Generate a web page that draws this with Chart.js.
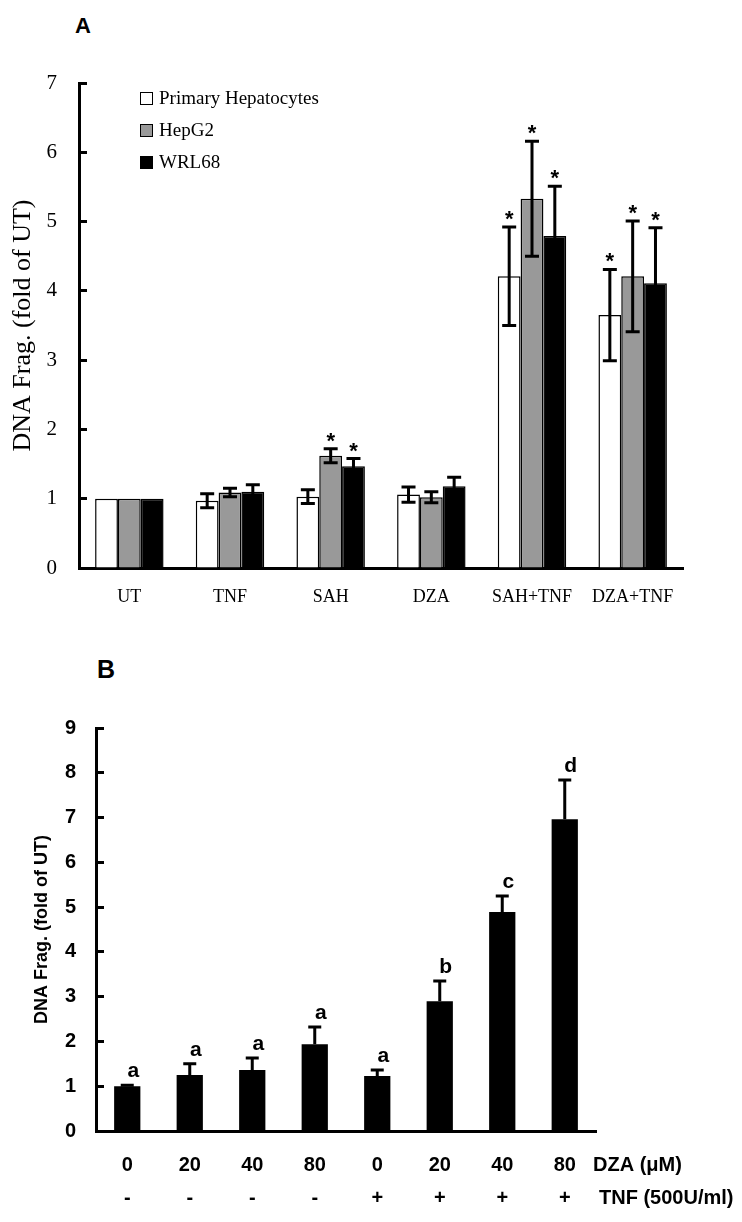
<!DOCTYPE html>
<html>
<head>
<meta charset="utf-8">
<title>DNA fragmentation</title>
<script src="https://cdn.jsdelivr.net/npm/chart.js@4.4.1/dist/chart.umd.min.js"></script>
<style>
  body { margin: 0; background: #fff; }
  #wrap { position: relative; width: 742px; height: 1222px; }
  canvas { position: absolute; left: 0; }
  .panel { position: absolute; font: bold 22px "Liberation Sans", Arial, sans-serif; line-height: 1; }
  #legendA { position: absolute; left: 140px; top: 82px; font: 19px "Liberation Serif", "Times New Roman", serif; }
  #legendA div { height: 32px; display: flex; align-items: center; }
  #legendA .box { display: inline-block; width: 11px; height: 11px; border: 1.5px solid #000; margin-right: 6px; }
</style>
</head>
<body>
<div id="wrap">
  <div class="panel" style="left:75px;top:15px;">A</div>
  <canvas id="chartA" width="742" height="620" style="top:0"></canvas>
  <div id="legendA"></div>
  <div class="panel" style="left:97px;top:657px;font-size:25px;">B</div>
  <canvas id="chartB" width="742" height="602" style="top:620px"></canvas>
</div>
<script>
// ---- panel A: three cell types ----
var groupsA = ["UT", "TNF", "SAH", "DZA", "SAH+TNF", "DZA+TNF"];
var seriesA = ["Primary Hepatocytes", "HepG2", "WRL68"];
var colorsA = ["#ffffff", "#999999", "#000000"];
var primaryVals = [1.0, 0.97, 1.03, 1.06, 4.21, 3.65];
var primaryErr  = [0, 0.10, 0.10, 0.11, 0.71, 0.66];
var hepg2Vals   = [1.0, 1.09, 1.62, 1.02, 5.33, 4.21];
var hepg2Err    = [0, 0.06, 0.10, 0.08, 0.83, 0.80];
var wrlVals     = [1.0, 1.10, 1.47, 1.18, 4.79, 4.11];
var wrlErr      = [0, 0.10, 0.11, 0.13, 0.72, 0.80];
var primarySig  = ["", "", "", "", "*", "*"];
var hepg2Sig    = ["", "", "*", "", "*", "*"];
var wrlSig      = ["", "", "*", "", "*", "*"];

// ---- panel B: DZA dose with / without TNF ----
var dzaDose  = ["0", "20", "40", "80", "0", "20", "40", "80"];
var tnfSign  = ["-", "-", "-", "-", "+", "+", "+", "+"];
var fragB    = [1.0, 1.25, 1.36, 1.94, 1.23, 2.9, 4.89, 6.96];
var fragErrB = [0.02, 0.25, 0.27, 0.38, 0.13, 0.45, 0.36, 0.88];
var lettersB = ["a", "a", "a", "a", "a", "b", "c", "d"];
var rowNamesB = ["DZA (\u03bcM)", "TNF (500U/ml)"];

var serif = "'Liberation Serif', 'Times New Roman', serif";
var sans = "'Liberation Sans', Arial, sans-serif";

// error bars + significance marks drawn from the dataset values
var errBars = {
  id: "errBars",
  afterDatasetsDraw: function (chart, args, opts) {
    var ctx = chart.ctx, y = chart.scales.y;
    ctx.save();
    chart.data.datasets.forEach(function (ds, i) {
      var meta = chart.getDatasetMeta(i);
      meta.data.forEach(function (bar, j) {
        var v = ds.data[j], e = ds.err[j];
        var yTop = y.getPixelForValue(v + e);
        var yBot = opts.both ? y.getPixelForValue(v - e) : bar.y;
        if (e > 0) {
          ctx.strokeStyle = "#000";
          ctx.lineWidth = opts.lw;
          ctx.beginPath();
          ctx.moveTo(bar.x, yTop); ctx.lineTo(bar.x, yBot);
          ctx.moveTo(bar.x - opts.cap, yTop); ctx.lineTo(bar.x + opts.cap, yTop);
          if (opts.both) { ctx.moveTo(bar.x - opts.cap, yBot); ctx.lineTo(bar.x + opts.cap, yBot); }
          ctx.stroke();
        }
        var mark = ds.marks[j];
        if (mark) {
          ctx.fillStyle = "#000";
          ctx.font = opts.markFont;
          ctx.textAlign = "center";
          ctx.textBaseline = "alphabetic";
          ctx.fillText(mark, bar.x + opts.markDx, yTop - opts.markGap);
        }
      });
    });
    ctx.restore();
  }
};

// row names to the right of the multi-line x labels (panel B)
var rowTitles = {
  id: "rowTitles",
  afterDraw: function (chart, args, opts) {
    var x = chart.scales.x, ctx = chart.ctx;
    ctx.save();
    ctx.font = opts.font;
    ctx.fillStyle = "#000";
    ctx.textBaseline = "middle";
    ctx.textAlign = "left";
    opts.text.forEach(function (t, i) {
      ctx.fillText(t, chart.chartArea.right + opts.dx[i], x.top + x.options.ticks.padding + opts.lineHeight * (i + 0.5));
    });
    ctx.restore();
  }
};

// legend for A
var legendA = document.getElementById("legendA");
seriesA.forEach(function (name, i) {
  var row = document.createElement("div");
  row.innerHTML = '<span class="box" style="background:' + colorsA[i] + '"></span>' + name;
  legendA.appendChild(row);
});

var valsA = [primaryVals, hepg2Vals, wrlVals];
var errsA = [primaryErr, hepg2Err, wrlErr];
var sigsA = [primarySig, hepg2Sig, wrlSig];

new Chart(document.getElementById("chartA"), {
  type: "bar",
  data: {
    labels: groupsA,
    datasets: seriesA.map(function (name, i) {
      return {
        label: name,
        data: valsA[i],
        err: errsA[i],
        marks: sigsA[i],
        backgroundColor: colorsA[i],
        borderColor: "#000",
        borderWidth: 1.5,
        barPercentage: 1.0,
        categoryPercentage: 0.68
      };
    })
  },
  options: {
    responsive: false,
    devicePixelRatio: 1,
    animation: false,
    layout: { padding: { left: 0, top: 83, right: 59, bottom: 0 } },
    plugins: {
      legend: { display: false },
      tooltip: { enabled: false },
      errBars: { both: true, lw: 3, cap: 7, markFont: "bold 22px " + sans, markDx: 0, markGap: 1 }
    },
    scales: {
      x: {
        grid: { display: false, drawTicks: false },
        border: { display: true, color: "#000", width: 3 },
        ticks: { color: "#000", padding: 18, font: { family: serif, size: 18 } },
        afterFit: function (s) { s.height = 52; }
      },
      y: {
        min: 0, max: 7,
        grid: { display: true, drawOnChartArea: false, drawTicks: true, tickLength: -8, tickWidth: 3, color: "#000" },
        border: { display: true, color: "#000", width: 3 },
        ticks: { stepSize: 1, color: "#000", padding: 30, font: { family: serif, size: 21 } },
        title: { display: true, text: "DNA Frag. (fold of UT)", color: "#000", padding: { top: 8, bottom: 0 },
                 font: { family: serif, size: 26, lineHeight: 1.2 } },
        afterFit: function (s) { s.width = 79; }
      }
    }
  },
  plugins: [errBars]
});

new Chart(document.getElementById("chartB"), {
  type: "bar",
  data: {
    labels: dzaDose.map(function (d, i) { return [d, tnfSign[i]]; }),
    datasets: [{
      label: "DNA Frag.",
      data: fragB,
      err: fragErrB,
      marks: lettersB,
      backgroundColor: "#000",
      borderWidth: 0,
      barPercentage: 0.42,
      categoryPercentage: 1.0
    }]
  },
  options: {
    responsive: false,
    devicePixelRatio: 1,
    animation: false,
    layout: { padding: { left: 0, top: 108, right: 146, bottom: 0 } },
    plugins: {
      legend: { display: false },
      tooltip: { enabled: false },
      errBars: { both: false, lw: 3, cap: 6.5, markFont: "bold 21px " + sans, markDx: 6, markGap: 8 },
      rowTitles: { text: rowNamesB, font: "bold 20px " + sans, lineHeight: 33, dx: [-3, 3] }
    },
    scales: {
      x: {
        grid: { display: false, drawTicks: false },
        border: { display: true, color: "#000", width: 3 },
        ticks: { color: "#000", padding: 17.5, font: { family: sans, size: 20, weight: "bold", lineHeight: 1.65 } },
        afterFit: function (s) { s.height = 91; }
      },
      y: {
        min: 0, max: 9,
        grid: { display: true, drawOnChartArea: false, drawTicks: true, tickLength: -8, tickWidth: 3, color: "#000" },
        border: { display: true, color: "#000", width: 3 },
        ticks: { stepSize: 1, color: "#000", padding: 28, font: { family: sans, size: 20, weight: "bold" } },
        title: { display: true, text: "DNA Frag. (fold of UT)", color: "#000", padding: { top: 31, bottom: 0 },
                 font: { family: sans, size: 18, weight: "bold", lineHeight: 1.2 } },
        afterFit: function (s) { s.width = 96; }
      }
    }
  },
  plugins: [errBars, rowTitles]
});
</script>
</body>
</html>
